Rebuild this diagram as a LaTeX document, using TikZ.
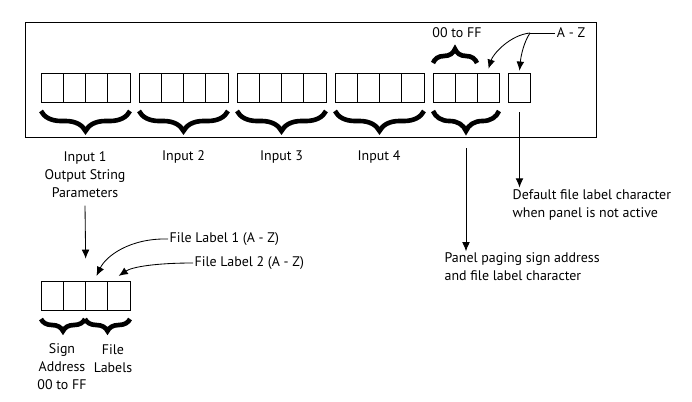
\documentclass[tikz,border=0pt]{standalone}
\usepackage{fontspec}
\setmainfont{PT Sans}
\usetikzlibrary{decorations.pathreplacing,arrows.meta}

\tikzset{
  cell/.style={draw, thin, minimum width=0.555cm, minimum height=0.725cm, inner sep=0pt},
  curly/.style={decorate, decoration={brace, amplitude=#1}, line width=3.3pt},
  txt/.style={align=center, inner sep=1pt},
  ltxt/.style={align=left, anchor=west, inner sep=1pt},
  pointer/.style={->, semithick}
}

\begin{document}
\begin{tikzpicture}[x=0.025cm, y=-0.025cm, >={Latex[length=6.5pt,width=5.5pt]},
  font=\fontsize{9.9}{12.8}\selectfont]
\useasboundingbox (0,0) rectangle (692,402);

% panel frame
\draw[semithick] (25,22) rectangle (596,137);

% four input groups
\foreach \g/\x in {1/41,2/139,3/237,4/335}{
  \foreach \c in {1,...,4}
    \node[cell] (g\g c\c) at ({\x+22.2*\c-11.1},87.5) {};
  \draw[curly=0.5cm] ({\x+89},111) -- (\x,111);
}

% paging group and default cell
\foreach \c in {1,2,3}
  \node[cell] (g5c\c) at ({433+22.2*\c-11.1},87.5) {};
\node[cell] (dflt) at (519.5,87.5) {};
\draw[curly=0.5cm] (499,111) -- (433,111);
\draw[curly=0.35cm] (433,63) -- (477,63);
\coordinate (b5) at (466,136);

\node[txt] (hex) at (457,33) {00 to FF};
\node[txt] (az) at (571,33) {A - Z};
\coordinate (azj) at (530,33);

\node[txt] (in1) at (85,175) {Input 1\\Output String\\Parameters};
\node[txt] (in2) at (183.5,157) {Input 2};
\node[txt] (in3) at (281.5,157) {Input 3};
\node[txt] (in4) at (379,157) {Input 4};

\node[ltxt] (deflbl) at (511,204.5) {Default file label character\\when panel is not active};
\node[ltxt] (paglbl) at (443,267) {Panel paging sign address\\and file label character};

% lower example
\foreach \c in {1,...,4}
  \node[cell] (lc\c) at ({41+22.2*\c-11.1},295.5) {};
\draw[curly=0.3cm] (85,319) -- (41,319);
\draw[curly=0.3cm] (130,319) -- (85,319);

\node[txt] (sign) at (62,367) {Sign\\Address\\00 to FF};
\node[txt] (flbl) at (113,358.5) {File\\Labels};

\node[ltxt] (fl1) at (168,239) {File Label 1 (A - Z)};
\node[ltxt] (fl2) at (193,263) {File Label 2 (A - Z)};

% arrows
\draw[semithick] (az.west) -- (azj);
\draw[pointer] (azj) .. controls (510,35) and (493,54) .. ([yshift=0.1cm]g5c3.north);
\draw[pointer] (azj) .. controls (524,42) and (521,55) .. ([yshift=0.05cm]dflt.north);
\draw[pointer] ([yshift=-0.25cm]dflt.south) -- (deflbl.north -| dflt);
\draw[pointer] ([yshift=-0.3cm]b5) -- (paglbl.north -| b5);
\draw[pointer] ([yshift=-0.15cm]in1.south) -- ([yshift=0.55cm]lc2.north east);
\draw[pointer] (fl1.west) .. controls (130,238) and (106,256) .. ([yshift=0.12cm]lc3.north);
\draw[pointer] (fl2.west) .. controls (155,263) and (132,267) .. ([yshift=0.12cm]lc4.north);
\end{tikzpicture}
\end{document}
